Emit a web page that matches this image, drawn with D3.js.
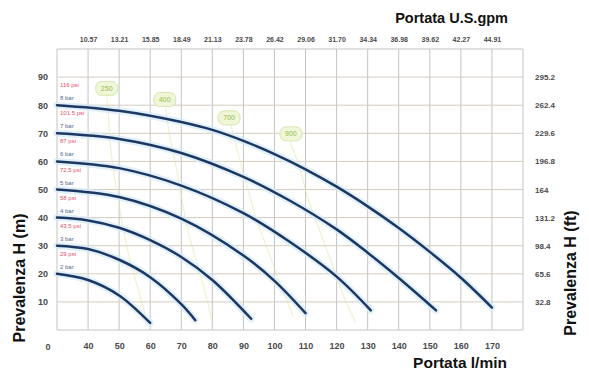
<!DOCTYPE html>
<html>
<head>
<meta charset="utf-8">
<script src="https://cdn.jsdelivr.net/npm/d3@7/dist/d3.min.js"></script>
<style>
  html, body { margin: 0; padding: 0; background: #ffffff; }
  svg { display: block; }
  .tick text { font-family: "Liberation Sans", Arial, sans-serif; font-weight: bold; fill: #4a4a4a; }
  .title { font-family: "Liberation Sans Narrow", "Arial Narrow", "Liberation Sans", sans-serif; font-weight: bold; fill: #111; }
</style>
</head>
<body>
<svg id="chart" width="589" height="372"></svg>
<script>
// ---------- data ----------
const flowTicks = [40, 50, 60, 70, 80, 90, 100, 110, 120, 130, 140, 150, 160, 170];
const gpmLabels = ["10.57","13.21","15.85","18.49","21.13","23.78","26.42","29.06","31.70","34.34","36.98","39.62","42.27","44.91"];
const headTicks = [10, 20, 30, 40, 50, 60, 70, 80, 90];
const ftLabels = ["32.8","65.6","98.4","131.2","164","196.8","229.6","262.4","295.2"];
const originLabel = "0";

const barLabels = ["8 bar","7 bar","6 bar","5 bar","4 bar","3 bar","2 bar"];
const psiLabels = ["116 psi","101.5 psi","87 psi","72.5 psi","58 psi","43.5 psi","29 psi"];
const startHeads = [80, 70, 60, 50, 40, 30, 20];

// pump curves: [flow l/min, head m]
const curve8bar = [[30,80],[50,78],[70,74],[80,71.2],[90,67.3],[100,62.6],[110,57.2],[120,51],[130,44],[140,36.3],[150,27.8],[160,18.6],[170,8]];
const curve7bar = [[30,70],[50,68],[70,63],[90,54.5],[105,46],[120,35.8],[130,27.5],[140,18.5],[152,7]];
const curve6bar = [[30,60],[50,57.6],[70,51.4],[90,41.6],[105,31.3],[120,19],[131,7]];
const curve5bar = [[30,50],[50,47.3],[70,39.6],[90,26.5],[100,17.5],[110,6]];
const curve4bar = [[30,40],[40,39],[50,36.4],[60,32],[70,26],[80,17.8],[92.5,4]];
const curve3bar = [[30,30],[40,28.8],[50,25],[60,18.8],[70,9.2],[74.5,3.5]];
const curve2bar = [[30,20],[40,17.8],[50,12.3],[60,2.5]];
const pumpCurves = [curve8bar, curve7bar, curve6bar, curve5bar, curve4bar, curve3bar, curve2bar];

// air consumption lines (Nl/min)
const airLabels = ["250", "400", "700", "900"];
const airLabelFlow = [46, 64.7, 85.4, 105.3];
const airLabelHead = [86, 82, 75.5, 69.8];
const air250 = [[46,83],[46.5,77],[47,68],[48,58],[49.5,48],[51,38],[53,27],[56,15],[58.5,5]];
const air400 = [[65,79],[66,71],[68,60],[70,48],[72,36],[75,24],[78,12],[80,3]];
const air700 = [[86,73],[88,64],[91,52],[94,40],[98,28],[102,16],[106,5]];
const air900 = [[105,67],[108,58],[111,46],[115,34],[119,22],[123,10],[126,3]];
const airLines = [air250, air400, air700, air900];

// ---------- layout ----------
const svg = d3.select("#chart");
const x = d3.scaleLinear().domain([30, 180]).range([57, 523]);
const y = d3.scaleLinear().domain([0, 100]).range([330, 49]);
const yFt = d3.scaleLinear().domain([0, 328]).range([330, 49]);

// grid
const grid = svg.append("g");
grid.selectAll("line.v").data(d3.range(30, 181, 10)).enter().append("line")
  .attr("x1", d => x(d)).attr("x2", d => x(d))
  .attr("y1", y(0)).attr("y2", y(100))
  .attr("stroke", "#c4c4c4").attr("stroke-width", 1);
grid.selectAll("line.h").data(d3.range(0, 101, 10)).enter().append("line")
  .attr("x1", x(30)).attr("x2", x(180))
  .attr("y1", d => y(d)).attr("y2", d => y(d))
  .attr("stroke", d => (d === 0 || d === 100) ? "#c4c4c4" : "#d4ccc0").attr("stroke-width", 1);

// air consumption lines
svg.append("g").selectAll("path").data(airLines).enter().append("path")
  .attr("d", d3.line().x(p => x(p[0])).y(p => y(p[1])).curve(d3.curveCatmullRom))
  .attr("fill", "none").attr("stroke", "#e3e6a8").attr("stroke-width", 1.1).attr("opacity", 0.6);

// pump curves
const curveLine = d3.line().x(d => x(d[0])).y(d => y(d[1])).curve(d3.curveCatmullRom.alpha(0.5));
const pc = svg.append("g");
pc.selectAll("path.glow").data(pumpCurves).enter().append("path")
  .attr("d", curveLine).attr("fill", "none")
  .attr("stroke", "#d6e9f8").attr("stroke-width", 7).attr("stroke-linecap", "round").attr("opacity", 0.7);
pc.selectAll("path.main").data(pumpCurves).enter().append("path")
  .attr("d", curveLine).attr("fill", "none")
  .attr("stroke", "#1c3862").attr("stroke-width", 2.5).attr("stroke-linecap", "round");

// pressure labels
const pl = svg.append("g").style("font-family", "'Liberation Sans', Arial, sans-serif").style("font-size", "6px");
pl.selectAll("text.psi").data(psiLabels).enter().append("text")
  .attr("x", x(30) + 3).attr("y", (d, i) => y(startHeads[i]) - 18)
  .attr("fill", "#e2506c").text(d => d);
pl.selectAll("text.bar").data(barLabels).enter().append("text")
  .attr("x", x(30) + 3).attr("y", (d, i) => y(startHeads[i]) - 5)
  .attr("fill", "#4d6890").text(d => d);

// air labels
const al = svg.append("g").selectAll("g").data(airLabels).enter().append("g")
  .attr("transform", (d, i) => `translate(${x(airLabelFlow[i])},${y(airLabelHead[i])})`);
al.append("rect").attr("x", -11).attr("y", -7).attr("width", 22).attr("height", 14).attr("rx", 6)
  .attr("fill", "#f0f6d8").attr("stroke", "#d8e6b0").attr("stroke-width", 1);
al.append("text").attr("text-anchor", "middle").attr("dy", "0.35em")
  .style("font-family", "'Liberation Sans', Arial, sans-serif").style("font-size", "7px")
  .attr("fill", "#93bd4e").text(d => d);

// axes
const bottomAxis = svg.append("g").attr("transform", "translate(0,343)")
  .call(d3.axisBottom(x).tickValues(flowTicks).tickSize(0).tickPadding(0));
bottomAxis.select(".domain").remove();
bottomAxis.selectAll("text").style("font-size", "9px");
svg.append("text").attr("x", x(30) - 9).attr("y", 350).attr("text-anchor", "middle")
  .style("font-family", "'Liberation Sans', Arial, sans-serif").style("font-weight", "bold")
  .style("font-size", "9px").attr("fill", "#4a4a4a").text(originLabel);

const topAxis = svg.append("g").attr("transform", "translate(0,42)")
  .call(d3.axisTop(x).tickValues(flowTicks).tickFormat((d, i) => gpmLabels[i]).tickSize(0).tickPadding(0));
topAxis.select(".domain").remove();
topAxis.selectAll("text").style("font-size", "7px").attr("fill", "#3a3a3a");

const leftAxis = svg.append("g").attr("transform", "translate(48,0)")
  .call(d3.axisLeft(y).tickValues(headTicks).tickSize(0).tickPadding(0));
leftAxis.select(".domain").remove();
leftAxis.selectAll("text").style("font-size", "9px");

const rightAxis = svg.append("g").attr("transform", "translate(535,0)")
  .call(d3.axisRight(yFt).tickValues(ftLabels.map(Number)).tickFormat((d, i) => ftLabels[i]).tickSize(0).tickPadding(0));
rightAxis.select(".domain").remove();
rightAxis.selectAll("text").style("font-size", "8px");

// titles
svg.append("text").attr("class", "title").attr("x", 508).attr("y", 23).attr("text-anchor", "end")
  .style("font-size", "14.5px").text("Portata U.S.gpm");
svg.append("text").attr("class", "title").attr("x", 507).attr("y", 368).attr("text-anchor", "end")
  .style("font-size", "15.5px").text("Portata l/min");
svg.append("text").attr("class", "title").attr("transform", "translate(21,278) rotate(-90)")
  .attr("text-anchor", "middle").attr("dominant-baseline", "middle")
  .style("font-size", "16px").text("Prevalenza H (m)");
svg.append("text").attr("class", "title").attr("transform", "translate(572,273) rotate(-90)")
  .attr("text-anchor", "middle").attr("dominant-baseline", "middle")
  .style("font-size", "16px").text("Prevalenza H (ft)");
</script>
</body>
</html>
